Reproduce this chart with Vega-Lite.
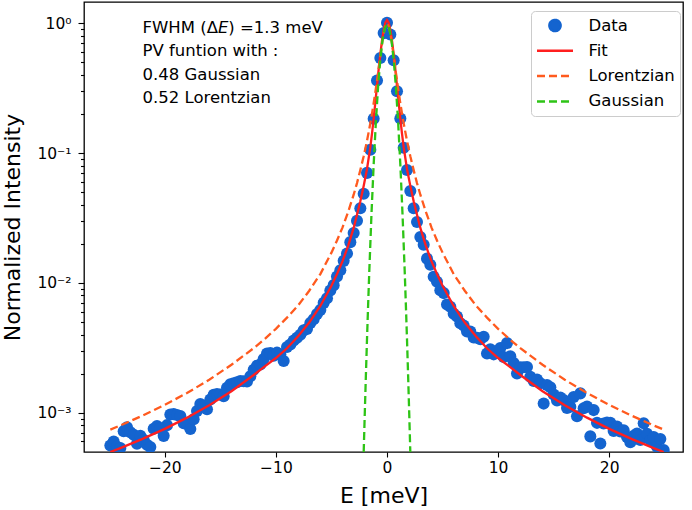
{
  "$schema": "https://vega.github.io/schema/vega-lite/v6.json",
  "width": 599,
  "height": 450,
  "autosize": "none",
  "padding": {"left": 84, "top": 2, "right": 9, "bottom": 58},
  "background": "white",
  "config": {
    "view": {"stroke": "black", "strokeWidth": 1.3},
    "font": "DejaVu Sans",
    "axis": {"grid": false, "domain": false, "tickColor": "black", "labelColor": "black", "titleColor": "black", "labelFont": "DejaVu Sans", "titleFont": "DejaVu Sans", "titleFontWeight": "normal"},
    "legend": {
      "title": null, "orient": "none", "legendX": 447, "legendY": 9,
      "symbolType": "stroke", "symbolSize": 1296, "symbolStrokeWidth": 2.5,
      "labelFontSize": 16.5, "labelFont": "DejaVu Sans", "labelColor": "black", "labelOffset": 14,
      "clipHeight": 20, "rowPadding": 5.3, "padding": 4.5,
      "fillColor": "white", "strokeColor": "#cccccc", "cornerRadius": 4
    }
  },
  "datasets": {
    "pts": [
      {"E": -24.9, "I": 0.000559}, {"E": -24.6, "I": 0.000599}, {"E": -24.3, "I": 0.000546}, {"E": -24.0, "I": 0.000534},
      {"E": -23.7, "I": 0.000721}, {"E": -23.4, "I": 0.000773}, {"E": -23.1, "I": 0.000706}, {"E": -22.8, "I": 0.000675},
      {"E": -22.5, "I": 0.000576}, {"E": -22.2, "I": 0.000663}, {"E": -21.9, "I": 0.000619}, {"E": -21.6, "I": 0.000567},
      {"E": -21.3, "I": 0.000543}, {"E": -21.0, "I": 0.000752}, {"E": -20.7, "I": 0.00079}, {"E": -20.4, "I": 0.000758},
      {"E": -20.1, "I": 0.000663}, {"E": -19.8, "I": 0.000802}, {"E": -19.5, "I": 0.000969}, {"E": -19.2, "I": 0.000975},
      {"E": -18.9, "I": 0.000959}, {"E": -18.6, "I": 0.000942}, {"E": -18.3, "I": 0.000828}, {"E": -18.0, "I": 0.000816},
      {"E": -17.7, "I": 0.00075}, {"E": -17.4, "I": 0.000889}, {"E": -17.1, "I": 0.00103}, {"E": -16.8, "I": 0.001168},
      {"E": -16.5, "I": 0.001128}, {"E": -16.2, "I": 0.001064}, {"E": -15.9, "I": 0.001265}, {"E": -15.6, "I": 0.001373},
      {"E": -15.3, "I": 0.001391}, {"E": -15.0, "I": 0.001381}, {"E": -14.7, "I": 0.001337}, {"E": -14.4, "I": 0.001558},
      {"E": -14.1, "I": 0.001659}, {"E": -13.8, "I": 0.001688}, {"E": -13.5, "I": 0.001717}, {"E": -13.2, "I": 0.001752},
      {"E": -12.9, "I": 0.001745}, {"E": -12.6, "I": 0.001742}, {"E": -12.3, "I": 0.001908}, {"E": -12.0, "I": 0.002139},
      {"E": -11.7, "I": 0.002298}, {"E": -11.4, "I": 0.002356}, {"E": -11.1, "I": 0.002594}, {"E": -10.8, "I": 0.002858},
      {"E": -10.5, "I": 0.002877}, {"E": -10.2, "I": 0.00275}, {"E": -9.9, "I": 0.002902}, {"E": -9.6, "I": 0.002815},
      {"E": -9.3, "I": 0.002499}, {"E": -9.0, "I": 0.003207}, {"E": -8.7, "I": 0.003354}, {"E": -8.4, "I": 0.003601},
      {"E": -8.1, "I": 0.003784}, {"E": -7.8, "I": 0.003985}, {"E": -7.5, "I": 0.004308}, {"E": -7.2, "I": 0.004419},
      {"E": -6.9, "I": 0.004919}, {"E": -6.6, "I": 0.005251}, {"E": -6.3, "I": 0.005757}, {"E": -6.0, "I": 0.006195},
      {"E": -5.7, "I": 0.007017}, {"E": -5.4, "I": 0.007627}, {"E": -5.1, "I": 0.008738}, {"E": -4.8, "I": 0.009612},
      {"E": -4.5, "I": 0.01118}, {"E": -4.2, "I": 0.01249}, {"E": -3.9, "I": 0.01478}, {"E": -3.6, "I": 0.01686},
      {"E": -3.3, "I": 0.02061}, {"E": -3.0, "I": 0.02419}, {"E": -2.7, "I": 0.03011}, {"E": -2.4, "I": 0.0376},
      {"E": -2.1, "I": 0.04869}, {"E": -1.8, "I": 0.0704}, {"E": -1.5, "I": 0.106}, {"E": -1.2, "I": 0.184},
      {"E": -0.9, "I": 0.362}, {"E": -0.6, "I": 0.54}, {"E": -0.3, "I": 0.84}, {"E": 0.0, "I": 1.01},
      {"E": 0.3, "I": 0.82}, {"E": 0.6, "I": 0.52}, {"E": 0.9, "I": 0.30}, {"E": 1.2, "I": 0.185},
      {"E": 1.5, "I": 0.11}, {"E": 1.8, "I": 0.074}, {"E": 2.1, "I": 0.051}, {"E": 2.4, "I": 0.0376},
      {"E": 2.7, "I": 0.02944}, {"E": 3.0, "I": 0.02257}, {"E": 3.3, "I": 0.01968}, {"E": 3.6, "I": 0.01538},
      {"E": 3.9, "I": 0.01379}, {"E": 4.2, "I": 0.01114}, {"E": 4.5, "I": 0.01019}, {"E": 4.8, "I": 0.008766},
      {"E": 5.1, "I": 0.008343}, {"E": 5.4, "I": 0.006804}, {"E": 5.7, "I": 0.006543}, {"E": 6.0, "I": 0.005787},
      {"E": 6.3, "I": 0.005499}, {"E": 6.6, "I": 0.004896}, {"E": 6.9, "I": 0.004698}, {"E": 7.2, "I": 0.004221},
      {"E": 7.5, "I": 0.004213}, {"E": 7.8, "I": 0.003804}, {"E": 8.1, "I": 0.003784}, {"E": 8.4, "I": 0.003686},
      {"E": 8.7, "I": 0.003848}, {"E": 9.0, "I": 0.00286}, {"E": 9.3, "I": 0.003075}, {"E": 9.6, "I": 0.002815},
      {"E": 9.9, "I": 0.002971}, {"E": 10.2, "I": 0.003155}, {"E": 10.5, "I": 0.002686}, {"E": 10.8, "I": 0.003436},
      {"E": 11.1, "I": 0.002716}, {"E": 11.4, "I": 0.002412}, {"E": 11.7, "I": 0.002001}, {"E": 12.0, "I": 0.002241},
      {"E": 12.3, "I": 0.002242}, {"E": 12.6, "I": 0.002245}, {"E": 12.9, "I": 0.001893}, {"E": 13.2, "I": 0.001752},
      {"E": 13.5, "I": 0.001799}, {"E": 13.8, "I": 0.001688}, {"E": 14.1, "I": 0.001175}, {"E": 14.4, "I": 0.001632},
      {"E": 14.7, "I": 0.001571}, {"E": 15.0, "I": 0.001381}, {"E": 15.3, "I": 0.00124}, {"E": 15.6, "I": 0.001311},
      {"E": 15.9, "I": 0.00125}, {"E": 16.2, "I": 0.001089}, {"E": 16.5, "I": 0.00111}, {"E": 16.8, "I": 0.00132},
      {"E": 17.1, "I": 0.00094}, {"E": 17.4, "I": 0.001409}, {"E": 17.7, "I": 0.001084}, {"E": 18.0, "I": 0.001114},
      {"E": 18.3, "I": 0.000657}, {"E": 18.6, "I": 0.001047}, {"E": 18.9, "I": 0.000835}, {"E": 19.2, "I": 0.00058},
      {"E": 19.5, "I": 0.000825}, {"E": 19.8, "I": 0.000839}, {"E": 20.1, "I": 0.000835}, {"E": 20.4, "I": 0.000724},
      {"E": 20.7, "I": 0.000782}, {"E": 21.0, "I": 0.000718}, {"E": 21.3, "I": 0.000732}, {"E": 21.6, "I": 0.000651},
      {"E": 21.9, "I": 0.000592}, {"E": 22.2, "I": 0.000663}, {"E": 22.5, "I": 0.000692}, {"E": 22.8, "I": 0.000616},
      {"E": 23.1, "I": 0.000829}, {"E": 23.4, "I": 0.000689}, {"E": 23.7, "I": 0.000614}, {"E": 24.0, "I": 0.00065},
      {"E": 24.3, "I": 0.000546}, {"E": 24.6, "I": 0.000627}, {"E": 24.9, "I": 0.000516}
    ],
    "fit": [
      {"E": -24.9, "I": 0.000498}, {"E": -24, "I": 0.000534}, {"E": -22, "I": 0.000629}, {"E": -20, "I": 0.000751},
      {"E": -18, "I": 0.000916}, {"E": -16, "I": 0.001141}, {"E": -14, "I": 0.001464}, {"E": -12, "I": 0.001952},
      {"E": -11, "I": 0.002275}, {"E": -10, "I": 0.002638}, {"E": -9, "I": 0.003135}, {"E": -8, "I": 0.003879},
      {"E": -7, "I": 0.004948}, {"E": -6, "I": 0.006639}, {"E": -5, "I": 0.009513}, {"E": -4.5, "I": 0.0117},
      {"E": -4, "I": 0.01472}, {"E": -3.5, "I": 0.01929}, {"E": -3, "I": 0.02652}, {"E": -2.7, "I": 0.03345},
      {"E": -2.4, "I": 0.0426}, {"E": -2.1, "I": 0.0559}, {"E": -1.8, "I": 0.0755}, {"E": -1.5, "I": 0.111},
      {"E": -1.35, "I": 0.141}, {"E": -1.2, "I": 0.184}, {"E": -1.05, "I": 0.2457}, {"E": -0.9, "I": 0.33},
      {"E": -0.75, "I": 0.441}, {"E": -0.6, "I": 0.578}, {"E": -0.45, "I": 0.734}, {"E": -0.3, "I": 0.89},
      {"E": -0.15, "I": 1.0125}, {"E": 0, "I": 1.06}, {"E": 0.15, "I": 1.0125}, {"E": 0.3, "I": 0.89},
      {"E": 0.45, "I": 0.734}, {"E": 0.6, "I": 0.578}, {"E": 0.75, "I": 0.441}, {"E": 0.9, "I": 0.33},
      {"E": 1.05, "I": 0.2457}, {"E": 1.2, "I": 0.184}, {"E": 1.35, "I": 0.141}, {"E": 1.5, "I": 0.111},
      {"E": 1.8, "I": 0.0755}, {"E": 2.1, "I": 0.0559}, {"E": 2.4, "I": 0.0426}, {"E": 2.7, "I": 0.03345},
      {"E": 3, "I": 0.02652}, {"E": 3.5, "I": 0.01929}, {"E": 4, "I": 0.01472}, {"E": 4.5, "I": 0.0117},
      {"E": 5, "I": 0.009513}, {"E": 6, "I": 0.006639}, {"E": 7, "I": 0.004948}, {"E": 8, "I": 0.003879},
      {"E": 9, "I": 0.003135}, {"E": 10, "I": 0.002638}, {"E": 11, "I": 0.002275}, {"E": 12, "I": 0.001952},
      {"E": 14, "I": 0.001464}, {"E": 16, "I": 0.001141}, {"E": 18, "I": 0.000916}, {"E": 20, "I": 0.000751},
      {"E": 22, "I": 0.000629}, {"E": 24, "I": 0.000534}, {"E": 24.9, "I": 0.000498}
    ],
    "lor": [
      {"E": -24.9, "I": 0.0007414}, {"E": -24, "I": 0.000798}, {"E": -22, "I": 0.0009495}, {"E": -20, "I": 0.001149},
      {"E": -18, "I": 0.001418}, {"E": -16, "I": 0.001794}, {"E": -14, "I": 0.002341}, {"E": -12, "I": 0.00314},
      {"E": -11, "I": 0.0037}, {"E": -10, "I": 0.00443}, {"E": -9, "I": 0.0054}, {"E": -8, "I": 0.0067},
      {"E": -7, "I": 0.0087}, {"E": -6, "I": 0.0117}, {"E": -5, "I": 0.0171}, {"E": -4.5, "I": 0.0212},
      {"E": -4, "I": 0.0268}, {"E": -3.5, "I": 0.0352}, {"E": -3, "I": 0.0478}, {"E": -2.7, "I": 0.05875},
      {"E": -2.4, "I": 0.07395}, {"E": -2.1, "I": 0.09446}, {"E": -1.8, "I": 0.1243}, {"E": -1.5, "I": 0.1697},
      {"E": -1.35, "I": 0.2015}, {"E": -1.2, "I": 0.2421}, {"E": -1.05, "I": 0.2944}, {"E": -0.9, "I": 0.3622},
      {"E": -0.75, "I": 0.4499}, {"E": -0.6, "I": 0.561}, {"E": -0.45, "I": 0.6943}, {"E": -0.3, "I": 0.8364},
      {"E": -0.15, "I": 0.9534}, {"E": 0, "I": 1.0}, {"E": 0.15, "I": 0.9534}, {"E": 0.3, "I": 0.8364},
      {"E": 0.45, "I": 0.6943}, {"E": 0.6, "I": 0.561}, {"E": 0.75, "I": 0.4499}, {"E": 0.9, "I": 0.3622},
      {"E": 1.05, "I": 0.2944}, {"E": 1.2, "I": 0.2421}, {"E": 1.35, "I": 0.2015}, {"E": 1.5, "I": 0.1697},
      {"E": 1.8, "I": 0.1243}, {"E": 2.1, "I": 0.09446}, {"E": 2.4, "I": 0.07395}, {"E": 2.7, "I": 0.05875},
      {"E": 3, "I": 0.0478}, {"E": 3.5, "I": 0.0352}, {"E": 4, "I": 0.0268}, {"E": 4.5, "I": 0.0212},
      {"E": 5, "I": 0.0171}, {"E": 6, "I": 0.0117}, {"E": 7, "I": 0.0087}, {"E": 8, "I": 0.0067},
      {"E": 9, "I": 0.0054}, {"E": 10, "I": 0.00443}, {"E": 11, "I": 0.0037}, {"E": 12, "I": 0.00314},
      {"E": 14, "I": 0.002341}, {"E": 16, "I": 0.001794}, {"E": 18, "I": 0.001418}, {"E": 20, "I": 0.001149},
      {"E": 22, "I": 0.0009495}, {"E": 24, "I": 0.000798}, {"E": 24.9, "I": 0.0007414}
    ],
    "gau": [
      {"E": -2.4, "I": 0.000048}, {"E": -2.2, "I": 0.000233}, {"E": -2.1, "I": 0.000489}, {"E": -2.0, "I": 0.00099},
      {"E": -1.9, "I": 0.00194}, {"E": -1.8, "I": 0.003675}, {"E": -1.7, "I": 0.00671}, {"E": -1.6, "I": 0.01187},
      {"E": -1.4, "I": 0.0334}, {"E": -1.2, "I": 0.0818}, {"E": -1.0, "I": 0.1747}, {"E": -0.8, "I": 0.325},
      {"E": -0.6, "I": 0.527}, {"E": -0.4, "I": 0.744}, {"E": -0.2, "I": 0.915}, {"E": 0, "I": 0.98},
      {"E": 0.2, "I": 0.915}, {"E": 0.4, "I": 0.744}, {"E": 0.6, "I": 0.527}, {"E": 0.8, "I": 0.325},
      {"E": 1.0, "I": 0.1747}, {"E": 1.2, "I": 0.0818}, {"E": 1.4, "I": 0.0334}, {"E": 1.6, "I": 0.01187},
      {"E": 1.7, "I": 0.00671}, {"E": 1.8, "I": 0.003675}, {"E": 1.9, "I": 0.00194}, {"E": 2.0, "I": 0.00099},
      {"E": 2.1, "I": 0.000489}, {"E": 2.2, "I": 0.000233}, {"E": 2.4, "I": 0.000048}
    ],
    "note": [{"k": 1}]
  },
  "layer": [
    {
      "data": {"name": "pts"},
      "mark": {"type": "point", "filled": true, "size": 145, "opacity": 1, "clip": true},
      "encoding": {
        "x": {
          "field": "E", "type": "quantitative",
          "scale": {"domain": [-27.27, 26.64], "nice": false, "zero": false},
          "axis": {
            "values": [-20, -10, 0, 10, 20],
            "title": "E [meV]", "titleFontSize": 22, "titlePadding": 10,
            "labelFontSize": 15.5, "labelPadding": 3, "tickSize": 5, "tickWidth": 1.1
          }
        },
        "y": {
          "field": "I", "type": "quantitative",
          "scale": {"type": "log", "domain": [0.000498, 1.459], "nice": false, "zero": false},
          "axis": {
            "values": [0.0006, 0.0007, 0.0008, 0.0009, 0.001, 0.002, 0.003, 0.004, 0.005, 0.006, 0.007, 0.008, 0.009, 0.01, 0.02, 0.03, 0.04, 0.05, 0.06, 0.07, 0.08, 0.09, 0.1, 0.2, 0.3, 0.4, 0.5, 0.6, 0.7, 0.8, 0.9, 1],
            "labelExpr": "datum.value === 1 ? '10⁰' : datum.value === 0.1 ? '10⁻¹' : datum.value === 0.01 ? '10⁻²' : datum.value === 0.001 ? '10⁻³' : ''",
            "labelOverlap": false, "labelBound": false,
            "tickSize": {"condition": {"test": "indexof([1, 0.1, 0.01, 0.001], datum.value) >= 0", "value": 6}, "value": 3.5},
            "tickWidth": 1.1,
            "title": "Normalized Intensity", "titleFontSize": 22, "titlePadding": 12,
            "labelFontSize": 15.5, "labelPadding": 7
          }
        },
        "color": {
          "datum": "Data", "type": "nominal",
          "scale": {"domain": ["Data", "Fit", "Lorentzian", "Gaussian"], "range": ["#1464cf", "#ff1f1f", "#ff5a1e", "#2ec416"]},
          "legend": {
            "encode": {
              "symbols": {
                "update": {
                  "shape": {"signal": "datum.value === 'Data' ? 'circle' : 'stroke'"},
                  "size": {"signal": "datum.value === 'Data' ? 125 : 1296"},
                  "fill": {"signal": "datum.value === 'Data' ? '#1464cf' : 'transparent'"},
                  "stroke": {"signal": "datum.value === 'Data' ? 'transparent' : datum.value === 'Fit' ? '#ff1f1f' : datum.value === 'Lorentzian' ? '#ff5a1e' : '#2ec416'"},
                  "strokeDash": {"signal": "datum.value === 'Lorentzian' || datum.value === 'Gaussian' ? [8, 4] : [1, 0]"},
                  "strokeWidth": {"value": 2.5},
                  "opacity": {"value": 1}
                }
              }
            }
          }
        }
      }
    },
    {
      "data": {"name": "fit"},
      "mark": {"type": "line", "strokeWidth": 2.3, "clip": true},
      "encoding": {
        "x": {"field": "E", "type": "quantitative"},
        "y": {"field": "I", "type": "quantitative"},
        "color": {"datum": "Fit", "type": "nominal",
          "legend": {
            "encode": {
              "symbols": {
                "update": {
                  "shape": {"signal": "datum.value === 'Data' ? 'circle' : 'stroke'"},
                  "size": {"signal": "datum.value === 'Data' ? 125 : 1296"},
                  "fill": {"signal": "datum.value === 'Data' ? '#1464cf' : 'transparent'"},
                  "stroke": {"signal": "datum.value === 'Data' ? 'transparent' : datum.value === 'Fit' ? '#ff1f1f' : datum.value === 'Lorentzian' ? '#ff5a1e' : '#2ec416'"},
                  "strokeDash": {"signal": "datum.value === 'Lorentzian' || datum.value === 'Gaussian' ? [8, 4] : [1, 0]"},
                  "strokeWidth": {"value": 2.5},
                  "opacity": {"value": 1}
                }
              }
            }
          }
        }
      }
    },
    {
      "data": {"name": "lor"},
      "mark": {"type": "line", "strokeWidth": 2.3, "strokeDash": [8, 4], "clip": true},
      "encoding": {
        "x": {"field": "E", "type": "quantitative"},
        "y": {"field": "I", "type": "quantitative"},
        "color": {"datum": "Lorentzian", "type": "nominal",
          "legend": {
            "encode": {
              "symbols": {
                "update": {
                  "shape": {"signal": "datum.value === 'Data' ? 'circle' : 'stroke'"},
                  "size": {"signal": "datum.value === 'Data' ? 125 : 1296"},
                  "fill": {"signal": "datum.value === 'Data' ? '#1464cf' : 'transparent'"},
                  "stroke": {"signal": "datum.value === 'Data' ? 'transparent' : datum.value === 'Fit' ? '#ff1f1f' : datum.value === 'Lorentzian' ? '#ff5a1e' : '#2ec416'"},
                  "strokeDash": {"signal": "datum.value === 'Lorentzian' || datum.value === 'Gaussian' ? [8, 4] : [1, 0]"},
                  "strokeWidth": {"value": 2.5},
                  "opacity": {"value": 1}
                }
              }
            }
          }
        }
      }
    },
    {
      "data": {"name": "gau"},
      "mark": {"type": "line", "strokeWidth": 2.3, "strokeDash": [8, 4], "clip": true},
      "encoding": {
        "x": {"field": "E", "type": "quantitative"},
        "y": {"field": "I", "type": "quantitative"},
        "color": {"datum": "Gaussian", "type": "nominal",
          "legend": {
            "encode": {
              "symbols": {
                "update": {
                  "shape": {"signal": "datum.value === 'Data' ? 'circle' : 'stroke'"},
                  "size": {"signal": "datum.value === 'Data' ? 125 : 1296"},
                  "fill": {"signal": "datum.value === 'Data' ? '#1464cf' : 'transparent'"},
                  "stroke": {"signal": "datum.value === 'Data' ? 'transparent' : datum.value === 'Fit' ? '#ff1f1f' : datum.value === 'Lorentzian' ? '#ff5a1e' : '#2ec416'"},
                  "strokeDash": {"signal": "datum.value === 'Lorentzian' || datum.value === 'Gaussian' ? [8, 4] : [1, 0]"},
                  "strokeWidth": {"value": 2.5},
                  "opacity": {"value": 1}
                }
              }
            }
          }
        }
      }
    },
    {
      "data": {"name": "note"},
      "mark": {"type": "text", "align": "left", "baseline": "top", "fontSize": 16.5, "font": "DejaVu Sans", "color": "black", "dy": -3, "text": "FWHM (Δ"},
      "encoding": {"x": {"datum": -22.0, "type": "quantitative"}, "y": {"datum": 1, "type": "quantitative"}}
    },
    {
      "data": {"name": "note"},
      "mark": {"type": "text", "align": "left", "baseline": "top", "fontSize": 16.5, "font": "DejaVu Sans", "fontStyle": "italic", "color": "black", "dy": -3, "dx": 75.4, "text": "E"},
      "encoding": {"x": {"datum": -22.0, "type": "quantitative"}, "y": {"datum": 1, "type": "quantitative"}}
    },
    {
      "data": {"name": "note"},
      "mark": {"type": "text", "align": "left", "baseline": "top", "fontSize": 16.5, "font": "DejaVu Sans", "color": "black", "dy": -3, "dx": 85.8, "text": ") =1.3 meV"},
      "encoding": {"x": {"datum": -22.0, "type": "quantitative"}, "y": {"datum": 1, "type": "quantitative"}}
    },
    {
      "data": {"name": "note"},
      "mark": {"type": "text", "align": "left", "baseline": "top", "fontSize": 16.5, "font": "DejaVu Sans", "color": "black", "lineHeight": 23.2, "dy": 20.2,
               "text": ["PV funtion with :", "0.48 Gaussian", "0.52 Lorentzian"]},
      "encoding": {"x": {"datum": -22.0, "type": "quantitative"}, "y": {"datum": 1, "type": "quantitative"}}
    }
  ]
}
